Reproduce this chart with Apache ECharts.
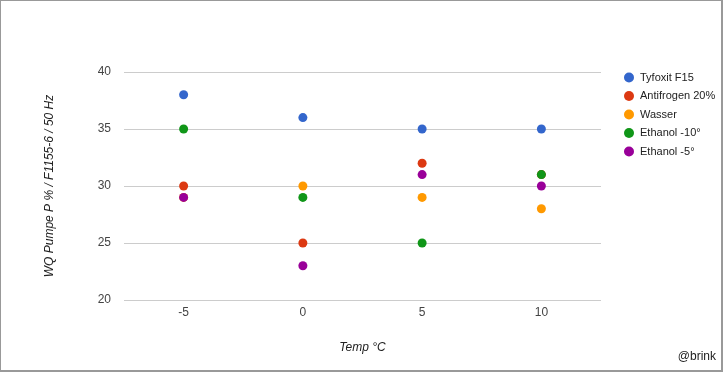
<!DOCTYPE html>
<html><head><meta charset="utf-8">
<script src="https://cdn.jsdelivr.net/npm/echarts@6/dist/echarts.min.js"></script>
<style>
html,body{margin:0;padding:0;background:#fff;}
#frame{position:absolute;left:0;top:0;width:720px;height:369px;border:1px solid #999;border-right-width:2px;border-bottom-width:2px;}
#c{position:absolute;left:0;top:0;width:725px;height:373px;}
</style></head>
<body>
<div id="frame"></div>
<div id="c"></div>
<script>
const categories = ['-5', '0', '5', '10'];
const seriesNames = ['Tyfoxit F15', 'Antifrogen 20%', 'Wasser', 'Ethanol -10°', 'Ethanol -5°'];
const tyfoxit = [38, 36, 35, 35];
const antifrogen = [30, 25, 32, 31];
const wasser = [29, 30, 29, 28];
const ethanol10 = [35, 29, 25, 31];
const ethanol5 = [29, 23, 31, 30];
const yTicks = [20, 25, 30, 35, 40];
const colors = ['#3366cc', '#dc3912', '#ff9900', '#109618', '#990099'];

const allData = [tyfoxit, antifrogen, wasser, ethanol10, ethanol5];
const chart = echarts.init(document.getElementById('c'));
chart.setOption({
  animation: false,
  color: colors,
  textStyle: { fontFamily: 'Liberation Sans, Arial, sans-serif' },
  grid: { left: 124, top: 72, width: 477, height: 228 },
  legend: {
    orient: 'vertical', left: 619, top: 67, itemGap: 7.5,
    icon: 'circle', itemWidth: 10, itemHeight: 10,
    textStyle: { fontSize: 11, color: '#222', padding: [0, 0, 0, 1] },
    itemStyle: { opacity: 1 },
    data: seriesNames
  },
  xAxis: {
    type: 'category', data: categories, boundaryGap: true,
    axisLine: { show: false }, axisTick: { show: false },
    axisLabel: { color: '#444', fontSize: 12, margin: 7 },
    name: 'Temp °C', nameLocation: 'middle', nameGap: 42,
    nameTextStyle: { fontStyle: 'italic', color: '#222', fontSize: 12 }
  },
  yAxis: {
    type: 'value', min: yTicks[0], max: yTicks[yTicks.length - 1], interval: 5,
    axisLine: { show: false }, axisTick: { show: false },
    axisLabel: { color: '#444', fontSize: 12, margin: 13 },
    splitLine: { lineStyle: { color: '#cccccc' } },
    name: 'WQ Pumpe P % / F1155-6 / 50 Hz', nameLocation: 'middle', nameGap: 68,
    nameTextStyle: { fontStyle: 'italic', color: '#222', fontSize: 12 }
  },
  series: seriesNames.map((n, i) => ({
    name: n, type: 'scatter', symbolSize: 9, data: allData[i],
    itemStyle: { opacity: 1 }
  })),
  graphic: [{
    type: 'text', right: 9, bottom: 10,
    style: { text: '@brink', fontSize: 12, fill: '#222', fontFamily: 'Liberation Sans, Arial, sans-serif' }
  }]
});
</script>
</body></html>
